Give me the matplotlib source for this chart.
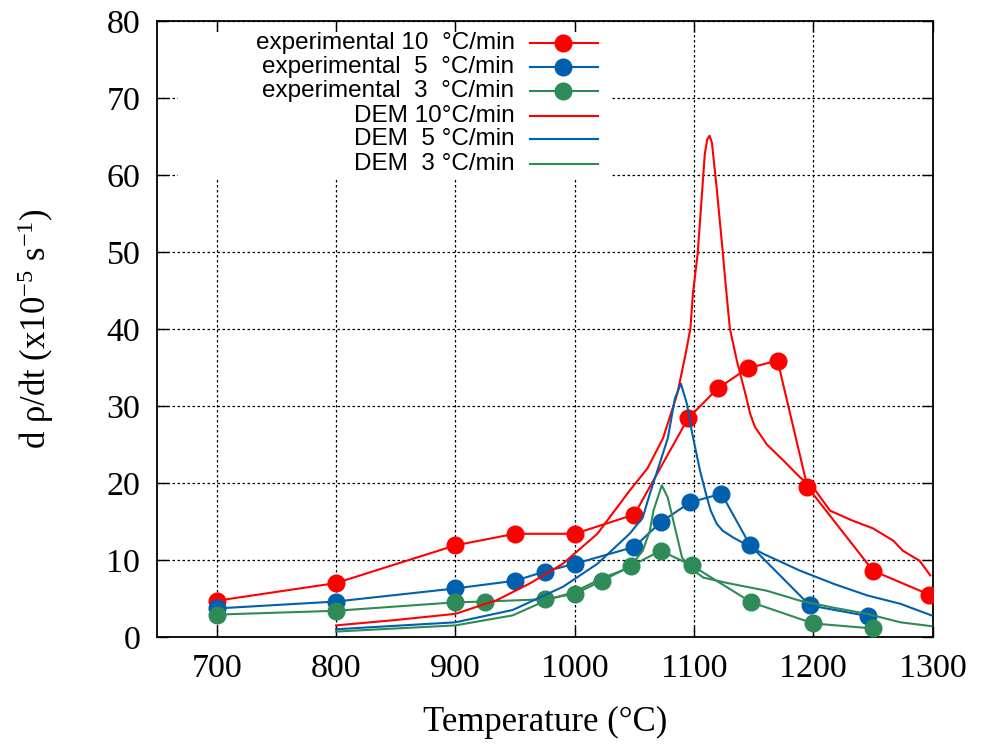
import matplotlib.pyplot as plt
from matplotlib.patches import Rectangle

# experimental densification rate (points)
exp10_T = [700, 800, 900, 950, 1000, 1050, 1095, 1120, 1145, 1170, 1195, 1250, 1297]
exp10_r = [4.7, 7.0, 11.9, 13.4, 13.4, 15.9, 28.4, 32.3, 34.9, 35.9, 19.5, 8.6, 5.5]

exp5_T = [700, 800, 900, 950, 975, 1000, 1050, 1072, 1097, 1123, 1147, 1197, 1246]
exp5_r = [3.7, 4.6, 6.3, 7.3, 8.5, 9.5, 11.7, 14.9, 17.5, 18.6, 11.9, 4.1, 2.7]

exp3_T = [700, 800, 900, 925, 975, 1000, 1023, 1047, 1072, 1098, 1148, 1200, 1250]
exp3_r = [2.9, 3.4, 4.5, 4.6, 4.9, 5.6, 7.3, 9.2, 11.2, 9.3, 4.5, 1.75, 1.1]

# DEM simulation curves
dem10_T = [800, 850, 900, 935, 963, 990, 1019, 1046, 1061, 1074, 1086, 1093, 1097,
           1099, 1103, 1107, 1109, 1111, 1113, 1115, 1116, 1119, 1124, 1126, 1130,
           1136, 1143, 1147, 1151, 1161, 1175, 1189, 1200, 1214, 1233, 1250, 1267,
           1275, 1289, 1298]
dem10_r = [1.5, 2.2, 3.0, 4.8, 7.0, 9.5, 13.4, 19.0, 21.9, 25.8, 31.6, 36.8, 40.1,
           44.5, 49.7, 58.3, 62.7, 64.6, 65.1, 64.2, 62.7, 58.3, 50.1, 46.6, 40.1,
           35.8, 31.6, 29.0, 27.3, 25.0, 22.9, 20.7, 19.4, 16.4, 15.1, 14.1, 12.5,
           11.2, 9.9, 8.0]

dem5_T = [800, 900, 948, 990, 1019, 1046, 1057, 1063, 1072, 1078, 1084, 1089, 1094,
          1098, 1105, 1111, 1114, 1119, 1124, 1133, 1158, 1189, 1217, 1245, 1273, 1299]
dem5_r = [1.0, 1.9, 3.5, 6.5, 9.5, 13.4, 15.5, 18.6, 22.9, 25.8, 31.0, 32.9, 30.3,
          26.8, 21.6, 18.0, 16.4, 14.7, 13.8, 12.9, 10.8, 8.6, 6.9, 5.4, 4.3, 2.8]

dem3_T = [800, 900, 948, 977, 999, 1024, 1046, 1057, 1063, 1066, 1073, 1078, 1084,
          1090, 1098, 1108, 1128, 1161, 1189, 1217, 1245, 1273, 1299]
dem3_r = [0.7, 1.5, 2.8, 4.8, 5.8, 7.7, 9.0, 11.2, 13.8, 16.4, 19.7, 18.1, 14.2,
          10.3, 8.8, 7.7, 7.0, 6.0, 4.7, 3.8, 3.0, 1.9, 1.4]

red = '#ff0000'
blue = '#0060ad'
green = '#2e8b57'

plt.rcParams['font.family'] = 'Liberation Serif'
plt.rcParams['mathtext.fontset'] = 'custom'
plt.rcParams['mathtext.rm'] = 'Liberation Serif'
plt.rcParams['mathtext.it'] = 'Liberation Serif:italic'

fig = plt.figure(figsize=(9.97, 7.52), dpi=100)
ax = fig.add_axes([0.1575, 0.153, 0.778, 0.819])

series = [
    (exp10_T, exp10_r, red, 'o'),
    (exp5_T, exp5_r, blue, 'o'),
    (exp3_T, exp3_r, green, 'o'),
    (dem10_T, dem10_r, red, None),
    (dem5_T, dem5_r, blue, None),
    (dem3_T, dem3_r, green, None),
]
labels = ['experimental 10  \u00b0C/min', 'experimental  5  \u00b0C/min',
          'experimental  3  \u00b0C/min', 'DEM 10\u00b0C/min',
          'DEM  5 \u00b0C/min', 'DEM  3 \u00b0C/min']

for T, r, c, m in series:
    ax.plot(T, r, color=c, lw=1.5, marker=m, markersize=12, zorder=3)

ax.set_xlim(650, 1300)
ax.set_ylim(0, 80)
ax.set_xticks(range(700, 1301, 100))
ax.set_yticks(range(0, 81, 10))
ax.tick_params(direction='in', length=8, width=1, top=True, right=True,
               labelsize=24.5)
ax.tick_params(axis='x', pad=12)
ax.tick_params(axis='y', pad=12)
for s in ax.spines.values():
    s.set_linewidth(1.3)

ax.set_axisbelow(True)
ax.grid(True, color='black', linestyle=(0, (2, 2)), linewidth=0.9)

# opaque key area, gnuplot style
ax.add_patch(Rectangle((0.027, 0.744), 0.557, 0.238, transform=ax.transAxes,
                       facecolor='white', edgecolor='none', zorder=1.5))
rows = [0.964, 0.925, 0.886, 0.846, 0.808, 0.768]
for (T, r, c, m), lab, yy in zip(series, labels, rows):
    ax.text(0.461, yy, lab, transform=ax.transAxes, ha='right', va='center',
            fontsize=17.5, family='Liberation Sans', zorder=4)
    ax.plot([0.481, 0.568], [yy, yy], transform=ax.transAxes, color=c, lw=1.5,
            zorder=4)
    if m:
        ax.plot([0.523], [yy], transform=ax.transAxes, color=c, marker=m,
                markersize=12, zorder=4)

ax.set_xlabel('Temperature (\u00b0C)', fontsize=25)
ax.xaxis.set_label_coords(0.5, -0.112)
ax.set_ylabel('d \u03c1/dt (x10$^{-5}$ s$^{-1}$)', fontsize=25)
ax.yaxis.set_label_coords(-0.13, 0.5)

fig.savefig('out.png', dpi=100)
